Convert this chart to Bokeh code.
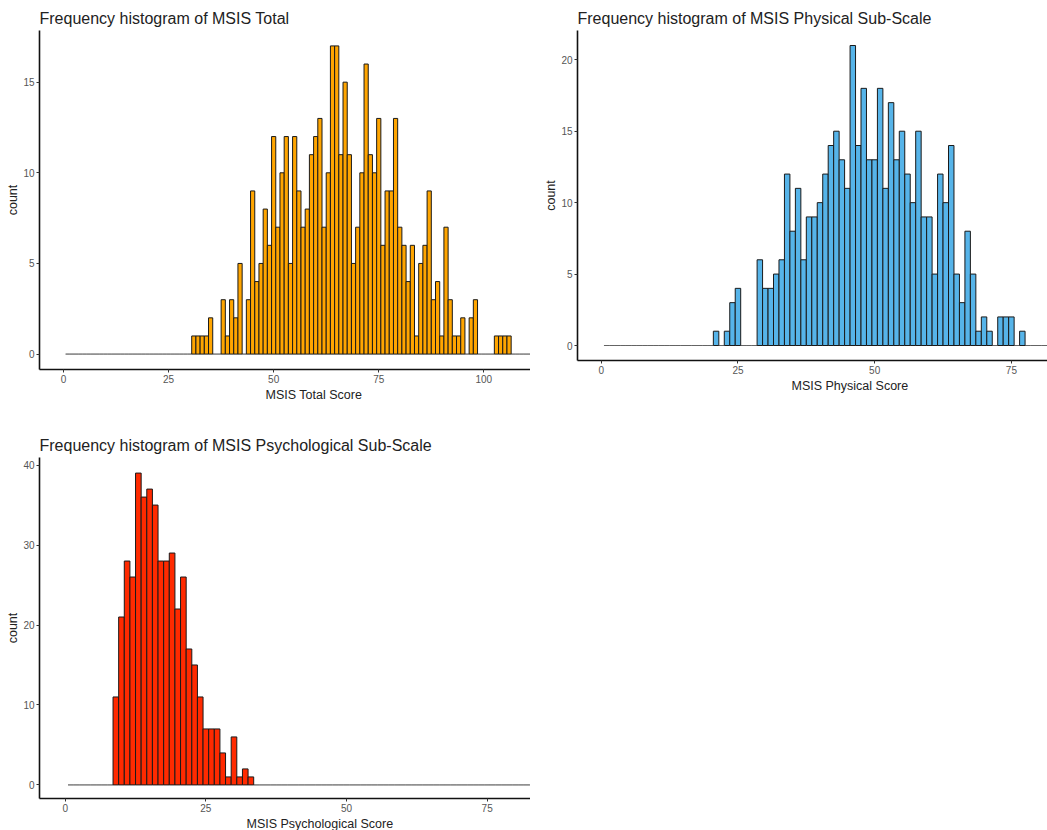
from bokeh.plotting import figure
from bokeh.models import Range1d, FixedTicker, Title, ColumnDataSource
from bokeh.layouts import row, column
from bokeh.embed import file_html
from bokeh.resources import INLINE

FONT = "Liberation Sans"

# Counts per 1-point score bin (bin centred on the integer score).
total_scores = list(range(31, 107))
total_counts = [1, 1, 1, 1, 2, 0, 0, 3, 1, 3, 2, 5, 0, 3, 9, 4, 5, 8, 6, 12,
                7, 10, 12, 5, 12, 9, 7, 8, 11, 12, 13, 7, 10, 17, 17, 11, 15, 11, 5, 7,
                10, 16, 11, 10, 13, 6, 9, 9, 13, 7, 6, 4, 6, 1, 5, 6, 9, 3, 4, 1,
                7, 3, 1, 1, 2, 0, 2, 3, 0, 0, 0, 0, 1, 1, 1, 1]

phys_scores = list(range(21, 78))
phys_counts = [1, 0, 1, 3, 4, 0, 0, 0, 6, 4, 4, 5, 6, 12, 8, 11, 6, 9, 9, 10,
               12, 14, 15, 13, 11, 21, 14, 18, 13, 13, 18, 11, 17, 13, 15, 12, 10, 15, 9, 9,
               5, 12, 10, 14, 5, 3, 8, 5, 1, 2, 1, 0, 2, 2, 2, 0, 1]

psych_scores = list(range(9, 34))
psych_counts = [11, 21, 28, 26, 39, 36, 37, 35, 28, 28, 29, 22, 26, 17, 15, 11, 7, 7, 7, 4,
                1, 6, 1, 2, 1]

# Empty bins run along the baseline over the binned score domain.
total_domain = (1, 111)
phys_domain = (1, 82)
psych_domain = (1, 83)

total_ticks_x = [0, 25, 50, 75, 100]
total_ticks_y = [0, 5, 10, 15]
phys_ticks_x = [0, 25, 50, 75]
phys_ticks_y = [0, 5, 10, 15, 20]
psych_ticks_x = [0, 25, 50, 75]
psych_ticks_y = [0, 10, 20, 30, 40]


def bins(scores, counts, domain):
    lookup = dict(zip(scores, counts))
    xs = list(range(domain[0], domain[1] + 1))
    cs = [lookup.get(x, 0) for x in xs]
    filled = [i for i, c in enumerate(cs) if c > 0]
    empty = [i for i, c in enumerate(cs) if c == 0]
    full = ColumnDataSource(dict(left=[xs[i] - 0.5 for i in filled],
                                 right=[xs[i] + 0.5 for i in filled],
                                 top=[cs[i] for i in filled]))
    zero = ColumnDataSource(dict(left=[xs[i] - 0.5 for i in empty],
                                 right=[xs[i] + 0.5 for i in empty],
                                 top=[0 for i in empty]))
    return full, zero


def histogram(title, xlabel, scores, counts, domain, color, xr, yr, xt, yt,
              width, height, borders, xlabel_offset):
    left, right, top, bottom = borders
    p = figure(width=width, height=height, x_range=Range1d(*xr), y_range=Range1d(*yr),
               output_backend="svg", toolbar_location=None,
               min_border_left=left, min_border_right=right,
               min_border_top=top, min_border_bottom=bottom)
    p.title.text = title
    p.title.text_font = FONT
    p.title.text_font_size = "16px"
    p.title.text_font_style = "normal"
    p.title.text_color = "#222222"
    p.title.align = "left"
    p.title.standoff = 7

    full, zero = bins(scores, counts, domain)
    p.quad(left="left", right="right", bottom=0, top="top", source=zero,
           fill_color=None, line_color="#555555", line_width=0.7)
    p.quad(left="left", right="right", bottom=0, top="top", source=full,
           fill_color=color, line_color="#1a1a1a", line_width=1)

    p.xgrid.visible = False
    p.ygrid.visible = False
    p.outline_line_color = None
    p.background_fill_color = "white"
    p.border_fill_color = "white"

    for ax in (p.xaxis[0], p.yaxis[0]):
        ax.axis_line_color = "#111111"
        ax.axis_line_width = 1.6
        ax.major_tick_line_color = "#333333"
        ax.major_tick_in = 0
        ax.major_tick_out = 3
        ax.minor_tick_line_color = None
        ax.major_label_text_font = FONT
        ax.major_label_text_font_size = "10px"
        ax.major_label_text_color = "#555555"
        ax.major_label_standoff = 2
    p.xaxis[0].ticker = FixedTicker(ticks=xt)
    p.yaxis[0].ticker = FixedTicker(ticks=yt)

    p.yaxis[0].axis_label = "count"
    p.yaxis[0].axis_label_text_font = FONT
    p.yaxis[0].axis_label_text_font_size = "12.5px"
    p.yaxis[0].axis_label_text_font_style = "normal"
    p.yaxis[0].axis_label_text_color = "#222222"
    p.yaxis[0].axis_label_standoff = 0

    xt_title = Title(text=xlabel, align="left", offset=xlabel_offset,
                     text_font=FONT, text_font_size="12.5px", text_font_style="normal",
                     text_color="#222222", standoff=0)
    p.add_layout(xt_title, "below")
    return p


p1 = histogram("Frequency histogram of MSIS Total", "MSIS Total Score",
               total_scores, total_counts, total_domain, "#FFA500",
               (-5.71, 111.1), (-0.85, 17.85), total_ticks_x, total_ticks_y,
               530, 410, (39, 0, 30, 41), 226)

p2 = histogram("Frequency histogram of MSIS Physical Sub-Scale", "MSIS Physical Score",
               phys_scores, phys_counts, phys_domain, "#56B4E9",
               (-4.34, 81.6), (-1.05, 22.05), phys_ticks_x, phys_ticks_y,
               517, 401, (47, 0, 30, 41), 214)

p3 = histogram("Frequency histogram of MSIS Psychological Sub-Scale", "MSIS Psychological Score",
               psych_scores, psych_counts, psych_domain, "#FF2A00",
               (-4.57, 82.7), (-1.7, 40.95), psych_ticks_x, psych_ticks_y,
               530, 420, (39, 0, 47, 30), 207)

layout = column(row(p1, p2), p3)

open("out.html", "w").write(file_html(layout, INLINE))
